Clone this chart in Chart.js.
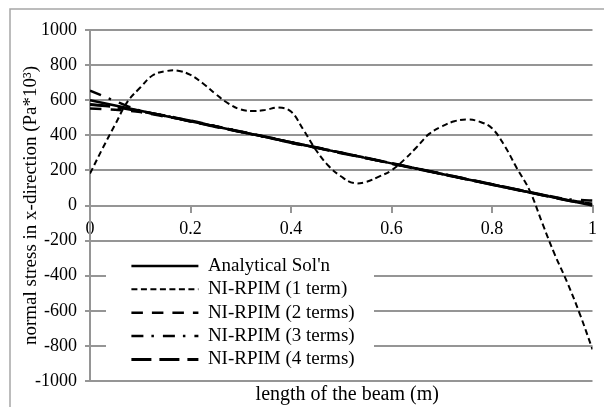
<!DOCTYPE html>
<html>
<head>
<meta charset="utf-8">
<script src="https://cdn.jsdelivr.net/npm/chart.js@4.4.1/dist/chart.umd.min.js"></script>
<style>
  html, body { margin: 0; padding: 0; background: #fff; }
  #wrap { width: 604px; height: 407px; position: relative; }
</style>
</head>
<body>
<div id="wrap"><canvas id="stressChart"></canvas></div>
<script>
// x positions (m)
const xCoarse = [0, 0.05, 0.1, 0.15, 0.2, 0.25, 0.3, 0.35, 0.4, 0.45, 0.5,
  0.55, 0.6, 0.65, 0.7, 0.75, 0.8, 0.85, 0.9, 0.95, 1];
const xFine = [0, 0.025, 0.05, 0.075, 0.1, 0.125, 0.15, 0.175, 0.2, 0.225, 0.25,
  0.275, 0.3, 0.325, 0.35, 0.375, 0.4, 0.425, 0.45, 0.475, 0.5,
  0.525, 0.55, 0.575, 0.6, 0.625, 0.65, 0.675, 0.7, 0.725, 0.75,
  0.775, 0.8, 0.825, 0.85, 0.875, 0.9, 0.925, 0.95, 0.975, 1];

// stress values (Pa*10^3)
const analytical = [600, 570, 540, 510, 480, 450, 420, 390, 360, 330, 300,
  270, 240, 210, 180, 150, 120, 90, 60, 30, 0];
const rpim1 = [182, 325, 461, 593, 672, 742, 765, 768, 744, 695, 635,
  582, 547, 538, 545, 558, 535, 430, 315, 225, 165,
  128, 135, 165, 200, 260, 332, 408, 450, 480, 490,
  478, 440, 340, 210, 85, -100, -280, -440, -620, -820];
const rpim2 = [553, 545, 532, 506, 484, 452, 418, 392, 357, 331, 300,
  271, 239, 211, 180, 151, 119, 91, 60, 31, 12];
const rpim3 = [655, 595, 540, 512, 478, 452, 421, 388, 362, 329, 302,
  269, 241, 209, 181, 149, 121, 89, 62, 36, 28];
const rpim4 = [575, 562, 537, 511, 481, 449, 421, 391, 359, 331, 299,
  271, 240, 210, 180, 150, 120, 90, 60, 30, 8];

const yTicks = [-1000, -800, -600, -400, -200, 0, 200, 400, 600, 800, 1000];
const xTicks = [0, 0.2, 0.4, 0.6, 0.8, 1];

const gridGrey = "#959595";

function pts(xs, ys) {
  return xs.map((x, i) => ({ x: x, y: ys[i] }));
}

Chart.defaults.font.family = "'Liberation Serif', 'Times New Roman', serif";
Chart.defaults.color = "#000";

// outer frame of the chart box
const framePlugin = {
  id: "frame",
  beforeDraw(chart) {
    const ctx = chart.ctx;
    ctx.save();
    ctx.strokeStyle = "#a6a6a6";
    ctx.lineWidth = 1.5;
    ctx.beginPath();
    ctx.moveTo(10, 407);
    ctx.lineTo(10, 9);
    ctx.lineTo(604, 9);
    ctx.stroke();
    ctx.restore();
  },
};

// legend sits inside the plot, on a white box over the gridlines
const legendSpot = {
  id: "legendSpot",
  afterLayout(chart) {
    const lg = chart.legend;
    lg.left = 127;
    lg.top = 252;
    lg.width = 250;
    lg.height = 130;
    lg.right = lg.left + lg.width;
    lg.bottom = lg.top + lg.height;
    // x title is centred a little right of the plot centre
    chart.scales.xTitle.left = chart.chartArea.left + 12;
  },
  beforeDatasetsDraw(chart) {
    const ctx = chart.ctx;
    ctx.save();
    ctx.fillStyle = "#fff";
    ctx.fillRect(106, 252, 268, 118);
    ctx.restore();
    chart.legend.draw();
  },
};

new Chart(document.getElementById("stressChart"), {
  type: "line",
  data: {
    datasets: [
      {
        label: "Analytical Sol'n",
        data: pts(xCoarse, analytical),
        borderColor: "#000",
        borderWidth: 2.5,
        tension: 0,
      },
      {
        label: "NI-RPIM (1 term)",
        data: pts(xFine, rpim1),
        borderColor: "#000",
        borderWidth: 2,
        borderDash: [6, 3.5],
        tension: 0.4,
      },
      {
        label: "NI-RPIM (2 terms)",
        data: pts(xCoarse, rpim2),
        borderColor: "#000",
        borderWidth: 2.5,
        borderDash: [11.5, 9],
        tension: 0.3,
      },
      {
        label: "NI-RPIM (3 terms)",
        data: pts(xCoarse, rpim3),
        borderColor: "#000",
        borderWidth: 2.5,
        borderDash: [12, 8, 2.5, 9],
        tension: 0.3,
      },
      {
        label: "NI-RPIM (4 terms)",
        data: pts(xCoarse, rpim4),
        borderColor: "#000",
        borderWidth: 3,
        borderDash: [20, 8],
        tension: 0.3,
      },
    ],
  },
  options: {
    responsive: true,
    maintainAspectRatio: false,
    animation: false,
    elements: { point: { radius: 0, hoverRadius: 0 } },
    layout: { padding: { top: 30, right: 11, left: 0, bottom: 0 } },
    plugins: {
      tooltip: { enabled: false },
      legend: {
        position: "chartArea",
        align: "start",
        labels: {
          usePointStyle: true,
          pointStyle: "line",
          pointStyleWidth: 67,
          boxHeight: 19,
          padding: 4.4,
          color: "#000",
          font: { size: 19 },
          generateLabels(chart) {
            const items = Chart.defaults.plugins.legend.labels.generateLabels(chart);
            items.forEach((item) => {
              const ds = chart.data.datasets[item.datasetIndex];
              item.lineDash = ds.borderDash || [];
              item.lineWidth = ds.borderWidth;
              item.strokeStyle = ds.borderColor;
            });
            return items;
          },
        },
      },
    },
    scales: {
      x: {
        type: "linear",
        position: { y: 0 },
        min: 0,
        max: 1,
        afterBuildTicks(scale) {
          scale.ticks = xTicks.map((v) => ({ value: v }));
        },
        grid: {
          drawOnChartArea: false,
          drawTicks: true,
          tickLength: 6,
          color: gridGrey,
          lineWidth: 2,
        },
        border: { display: true, color: gridGrey, width: 2 },
        ticks: {
          padding: 7,
          maxRotation: 0,
          font: { size: 18 },
          color: "#000",
          callback: (v) => String(v),
        },
      },
      xTitle: {
        type: "linear",
        position: "bottom",
        min: 0,
        max: 1,
        grid: { display: false },
        border: { display: false },
        ticks: { display: false },
        title: {
          display: true,
          text: "length of the beam (m)",
          font: { size: 20 },
          color: "#000",
          padding: { top: 0, bottom: 0 },
        },
        afterFit(scale) {
          scale.height = 26;
        },
      },
      y: {
        type: "linear",
        position: "left",
        min: -1000,
        max: 1000,
        afterBuildTicks(scale) {
          scale.ticks = yTicks.map((v) => ({ value: v }));
        },
        grid: {
          color: gridGrey,
          lineWidth: 2,
          tickLength: 5,
        },
        border: { display: true, color: gridGrey, width: 2 },
        ticks: {
          padding: 8,
          font: { size: 18 },
          color: "#000",
          callback: (v) => String(v),
        },
        title: {
          display: true,
          text: "normal stress in x-direction (Pa*10\u00B3)",
          font: { size: 19 },
          color: "#000",
          padding: { top: 20, bottom: 0 },
        },
        afterFit(scale) {
          scale.width = 90;
        },
      },
    },
  },
  plugins: [framePlugin, legendSpot],
});
</script>
</body>
</html>
